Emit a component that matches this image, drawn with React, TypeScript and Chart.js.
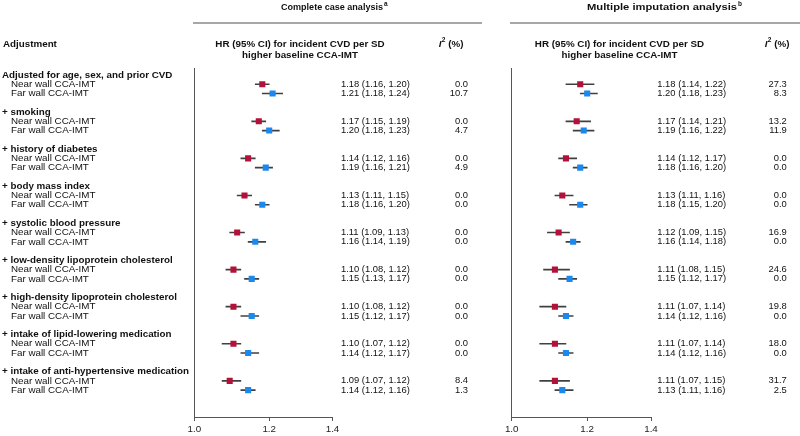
import { useEffect, useRef } from 'react';
import { Chart, registerables } from 'chart.js';
Chart.register(...registerables);

const groups = [
  'Adjusted for age, sex, and prior CVD',
  '+ smoking',
  '+ history of diabetes',
  '+ body mass index',
  '+ systolic blood pressure',
  '+ low-density lipoprotein cholesterol',
  '+ high-density lipoprotein cholesterol',
  '+ intake of lipid-lowering medication',
  '+ intake of anti-hypertensive medication',
];
const subLabels = ['Near wall CCA-IMT', 'Far wall CCA-IMT'];

const ccNearHR = [1.18, 1.17, 1.14, 1.13, 1.11, 1.10, 1.10, 1.10, 1.09];
const ccNearLo = [1.16, 1.15, 1.12, 1.11, 1.09, 1.08, 1.08, 1.07, 1.07];
const ccNearHi = [1.20, 1.19, 1.16, 1.15, 1.13, 1.12, 1.12, 1.12, 1.12];
const ccNearI2 = ['0.0', '0.0', '0.0', '0.0', '0.0', '0.0', '0.0', '0.0', '8.4'];
const ccFarHR = [1.21, 1.20, 1.19, 1.18, 1.16, 1.15, 1.15, 1.14, 1.14];
const ccFarLo = [1.18, 1.18, 1.16, 1.16, 1.14, 1.13, 1.12, 1.12, 1.12];
const ccFarHi = [1.24, 1.23, 1.21, 1.20, 1.19, 1.17, 1.17, 1.17, 1.16];
const ccFarI2 = ['10.7', '4.7', '4.9', '0.0', '0.0', '0.0', '0.0', '0.0', '1.3'];

const miNearHR = [1.18, 1.17, 1.14, 1.13, 1.12, 1.11, 1.11, 1.11, 1.11];
const miNearLo = [1.14, 1.14, 1.12, 1.11, 1.09, 1.08, 1.07, 1.07, 1.07];
const miNearHi = [1.22, 1.21, 1.17, 1.16, 1.15, 1.15, 1.14, 1.14, 1.15];
const miNearI2 = ['27.3', '13.2', '0.0', '0.0', '16.9', '24.6', '19.8', '18.0', '31.7'];
const miFarHR = [1.20, 1.19, 1.18, 1.18, 1.16, 1.15, 1.14, 1.14, 1.13];
const miFarLo = [1.18, 1.16, 1.16, 1.15, 1.14, 1.12, 1.12, 1.12, 1.11];
const miFarHi = [1.23, 1.22, 1.20, 1.20, 1.18, 1.17, 1.16, 1.16, 1.16];
const miFarI2 = ['8.3', '11.9', '0.0', '0.0', '0.0', '0.0', '0.0', '0.0', '2.5'];

const xTicks = [1.0, 1.2, 1.4];

const RED = '#b3103a';
const BLUE = '#1a88ee';
const WHISKER = '#404040';
const AXIS = '#555555';
const TEXT = '#111111';
const FONT = '"Liberation Sans", Arial, Helvetica, sans-serif';
const fnt = (size: number, bold = false, italic = false) =>
  `${italic ? 'italic ' : ''}${bold ? 'bold ' : ''}${size}px ${FONT}`;

const fmt = (hr: number, lo: number, hi: number) =>
  `${hr.toFixed(2)} (${lo.toFixed(2)}, ${hi.toFixed(2)})`;

type PanelSpec = {
  left: number;
  right: number;
  title: string;
  sup: string;
  titleX: number;
  titleWidth: number;
  ruleX0: number;
  ruleX1: number;
  hrHeaderX: number;
  i2HeaderX: number;
  estX: number;
  i2X: number;
  nearHR: number[]; nearLo: number[]; nearHi: number[]; nearI2: string[];
  farHR: number[]; farLo: number[]; farHi: number[]; farI2: string[];
  drawLabels: boolean;
};

function drawI2Header(ctx: CanvasRenderingContext2D, cx: number, y: number) {
  const size = 9.8;
  ctx.font = fnt(size, true, true);
  const wI = ctx.measureText('I').width;
  ctx.font = fnt(6.5, true);
  const w2 = ctx.measureText('2').width;
  ctx.font = fnt(size, true);
  const wRest = ctx.measureText(' (%)').width;
  let x = cx - (wI + w2 + wRest) / 2;
  ctx.textAlign = 'left';
  ctx.textBaseline = 'middle';
  ctx.font = fnt(size, true, true);
  ctx.fillText('I', x, y);
  x += wI + 0.3;
  ctx.font = fnt(6.5, true);
  ctx.fillText('2', x, y - 3.5);
  x += w2;
  ctx.font = fnt(size, true);
  ctx.fillText(' (%)', x, y);
}

function makeTextPlugin(p: PanelSpec) {
  return {
    id: 'forestText',
    afterDraw(chart: any) {
      const ctx: CanvasRenderingContext2D = chart.ctx;
      const ys = chart.scales.y;
      ctx.save();
      ctx.fillStyle = TEXT;
      ctx.textBaseline = 'middle';

      // panel title with superscript (stretched to the measured width)
      ctx.font = fnt(9.3, true);
      ctx.textAlign = 'left';
      const natural = ctx.measureText(p.title).width;
      const sx = p.titleWidth / natural;
      ctx.save();
      ctx.translate(p.titleX, 7);
      ctx.scale(sx, 1);
      ctx.fillText(p.title, 0, 0);
      ctx.restore();
      ctx.font = fnt(6.5, true);
      ctx.fillText(p.sup, p.titleX + p.titleWidth + 1, 4);

      // rule under title
      ctx.strokeStyle = '#8a8a8a';
      ctx.lineWidth = 1.5;
      ctx.beginPath();
      ctx.moveTo(p.ruleX0, 23);
      ctx.lineTo(p.ruleX1, 23);
      ctx.stroke();

      // column headers
      ctx.font = fnt(9.8, true);
      ctx.textAlign = 'center';
      ctx.fillText('HR (95% CI) for incident CVD per SD', p.hrHeaderX, 44);
      ctx.fillText('higher baseline CCA-IMT', p.hrHeaderX, 55);
      drawI2Header(ctx, p.i2HeaderX, 44);

      if (p.drawLabels) {
        ctx.font = fnt(9.8, true);
        ctx.textAlign = 'left';
        ctx.fillText('Adjustment', 3, 44);
      }

      groups.forEach((g, i) => {
        const yH = ys.getPixelForValue(i * 4);
        const yN = ys.getPixelForValue(i * 4 + 1);
        const yF = ys.getPixelForValue(i * 4 + 2);
        if (p.drawLabels) {
          ctx.textAlign = 'left';
          ctx.font = fnt(9.8, true);
          ctx.fillText(g, 2, yH);
          ctx.font = fnt(9.8);
          ctx.fillText(subLabels[0], 11, yN);
          ctx.fillText(subLabels[1], 11, yF);
        }
        ctx.font = fnt(9.4);
        ctx.textAlign = 'left';
        ctx.fillText(fmt(p.nearHR[i], p.nearLo[i], p.nearHi[i]), p.estX, yN);
        ctx.fillText(fmt(p.farHR[i], p.farLo[i], p.farHi[i]), p.estX, yF);
        ctx.textAlign = 'right';
        ctx.fillText(p.nearI2[i], p.i2X, yN);
        ctx.fillText(p.farI2[i], p.i2X, yF);
      });
      ctx.restore();
    },
  };
}

function buildPanel(canvas: HTMLCanvasElement, p: PanelSpec) {
  const whiskers = [
    ...p.nearHR.map((_, g) => ({ x: [p.nearLo[g], p.nearHi[g]], y: g * 4 + 1 })),
    ...p.farHR.map((_, g) => ({ x: [p.farLo[g], p.farHi[g]], y: g * 4 + 2 })),
  ];
  const nearPts = p.nearHR.map((v, g) => ({ x: v, y: g * 4 + 1 }));
  const farPts = p.farHR.map((v, g) => ({ x: v, y: g * 4 + 2 }));
  return new Chart(canvas, {
    type: 'bar',
    data: {
      datasets: [
        {
          type: 'bar',
          indexAxis: 'y',
          data: whiskers as any,
          backgroundColor: WHISKER,
          borderWidth: 0,
          barThickness: 1,
          grouped: false,
          order: 3,
        } as any,
        {
          type: 'scatter',
          data: nearPts,
          pointStyle: 'rect',
          pointRadius: 4.3,
          backgroundColor: RED,
          borderColor: RED,
          borderWidth: 0,
          order: 1,
        } as any,
        {
          type: 'scatter',
          data: farPts,
          pointStyle: 'rect',
          pointRadius: 4.3,
          backgroundColor: BLUE,
          borderColor: BLUE,
          borderWidth: 0,
          order: 1,
        } as any,
      ],
    },
    options: {
      responsive: false,
      animation: false,
      events: [],
      layout: { padding: { left: p.left, right: 800 - p.right, top: 68, bottom: 0 } },
      plugins: { legend: { display: false }, tooltip: { enabled: false } },
      scales: {
        x: {
          type: 'logarithmic',
          position: 'bottom',
          offset: false,
          min: 1,
          max: 1.4,
          afterFit: (s: any) => { s.height = 19; },
          afterBuildTicks: (s: any) => { s.ticks = xTicks.map((v) => ({ value: v })); },
          grid: { display: true, offset: false, drawOnChartArea: false, drawTicks: true, tickLength: 4, color: AXIS, lineWidth: 1 },
          border: { display: true, color: AXIS, width: 1 },
          ticks: {
            autoSkip: false,
            maxRotation: 0,
            padding: 2,
            color: '#222',
            font: { family: FONT, size: 9.8 },
            callback: (v: any) => Number(v).toFixed(1),
          },
        },
        y: {
          type: 'linear',
          reverse: true,
          offset: false,
          min: -0.75,
          max: 36.9,
          afterFit: (s: any) => { s.width = 0; },
          ticks: { display: false },
          grid: { display: false, offset: false },
          border: { display: true, color: AXIS, width: 1 },
        },
      } as any,
    },
    plugins: [makeTextPlugin(p)],
  });
}

const leftSpec: PanelSpec = {
  left: 194.3, right: 332.5,
  title: 'Complete case analysis', sup: 'a', titleX: 281, titleWidth: 102,
  ruleX0: 193, ruleX1: 482,
  hrHeaderX: 300, i2HeaderX: 451,
  estX: 341, i2X: 468,
  nearHR: ccNearHR, nearLo: ccNearLo, nearHi: ccNearHi, nearI2: ccNearI2,
  farHR: ccFarHR, farLo: ccFarLo, farHi: ccFarHi, farI2: ccFarI2,
  drawLabels: true,
};
const rightSpec: PanelSpec = {
  left: 511.7, right: 651,
  title: 'Multiple imputation analysis', sup: 'b', titleX: 587, titleWidth: 150,
  ruleX0: 510, ruleX1: 800,
  hrHeaderX: 619.5, i2HeaderX: 777,
  estX: 657.3, i2X: 786.7,
  nearHR: miNearHR, nearLo: miNearLo, nearHi: miNearHi, nearI2: miNearI2,
  farHR: miFarHR, farLo: miFarLo, farHi: miFarHi, farI2: miFarI2,
  drawLabels: false,
};

export default function App() {
  const leftRef = useRef<HTMLCanvasElement>(null);
  const rightRef = useRef<HTMLCanvasElement>(null);
  useEffect(() => {
    const a = buildPanel(leftRef.current!, leftSpec);
    const b = buildPanel(rightRef.current!, rightSpec);
    return () => { a.destroy(); b.destroy(); };
  }, []);
  const cs: any = { position: 'absolute', left: 0, top: 0, width: 800, height: 436 };
  return (
    <div style={{ position: 'fixed', left: 0, top: 0, width: 800, height: 436, background: '#fff' }}>
      <canvas ref={leftRef} width={800} height={436} style={cs} />
      <canvas ref={rightRef} width={800} height={436} style={cs} />
    </div>
  );
}
